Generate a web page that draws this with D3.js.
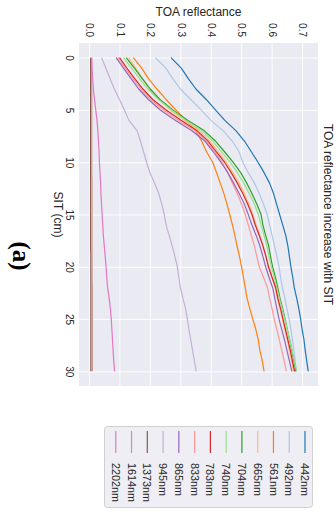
<!DOCTYPE html>
<html>
<head>
<meta charset="utf-8">
<script src="https://cdn.jsdelivr.net/npm/d3@7"></script>
<style>
  html, body { margin: 0; padding: 0; background: #fff; }
  svg { display: block; }
</style>
</head>
<body>
<div id="chart"></div>
<script>
const sit = [0, 1, 2, 3, 4, 5, 6, 7, 8, 9, 10, 11, 12, 13, 14, 15, 16, 17, 18, 19, 20, 21, 22, 23, 24, 25, 26, 27, 28, 29, 30]
const sitTicks = [0, 5, 10, 15, 20, 25, 30]
const toaTicks = [0.0, 0.1, 0.2, 0.3, 0.4, 0.5, 0.6, 0.7]

const bands = ["442nm", "492nm", "561nm", "665nm", "704nm", "740nm", "783nm", "833nm", "865nm", "945nm", "1373nm", "1614nm", "2202nm"]
const colors = ["#1f77b4", "#aec7e8", "#ff7f0e", "#ffbb78", "#2ca02c", "#98df8a", "#d62728", "#ff9896", "#9467bd", "#c5b0d5", "#8c564b", "#c49c94", "#e377c2"]

const toa442 = [0.266, 0.300, 0.323, 0.348, 0.382, 0.412, 0.443, 0.480, 0.508, 0.530, 0.552, 0.572, 0.590, 0.603, 0.613, 0.623, 0.633, 0.643, 0.650, 0.655, 0.660, 0.666, 0.671, 0.679, 0.686, 0.692, 0.697, 0.703, 0.707, 0.712, 0.717]
const toa492 = [0.215, 0.249, 0.272, 0.297, 0.331, 0.365, 0.397, 0.438, 0.468, 0.490, 0.502, 0.520, 0.540, 0.556, 0.570, 0.582, 0.590, 0.598, 0.606, 0.614, 0.621, 0.626, 0.632, 0.640, 0.647, 0.654, 0.660, 0.665, 0.670, 0.674, 0.678]
const toa561 = [0.142, 0.170, 0.192, 0.220, 0.250, 0.282, 0.316, 0.347, 0.367, 0.383, 0.403, 0.416, 0.428, 0.440, 0.450, 0.459, 0.468, 0.476, 0.483, 0.491, 0.498, 0.504, 0.510, 0.516, 0.525, 0.535, 0.545, 0.553, 0.558, 0.566, 0.572]
const toa665 = [0.127, 0.150, 0.172, 0.196, 0.226, 0.264, 0.310, 0.360, 0.395, 0.422, 0.448, 0.470, 0.490, 0.507, 0.522, 0.535, 0.546, 0.558, 0.569, 0.578, 0.588, 0.598, 0.608, 0.616, 0.624, 0.632, 0.640, 0.648, 0.655, 0.662, 0.668]
const toa704 = [0.119, 0.146, 0.172, 0.198, 0.230, 0.272, 0.322, 0.376, 0.413, 0.442, 0.470, 0.495, 0.515, 0.532, 0.548, 0.562, 0.568, 0.577, 0.587, 0.593, 0.600, 0.609, 0.617, 0.624, 0.633, 0.641, 0.648, 0.656, 0.663, 0.670, 0.676]
const toa740 = [0.110, 0.136, 0.163, 0.190, 0.225, 0.268, 0.316, 0.368, 0.404, 0.432, 0.460, 0.484, 0.505, 0.523, 0.540, 0.553, 0.562, 0.572, 0.581, 0.588, 0.596, 0.605, 0.614, 0.622, 0.631, 0.640, 0.648, 0.656, 0.664, 0.671, 0.679]
const toa783 = [0.097, 0.121, 0.147, 0.174, 0.206, 0.250, 0.300, 0.352, 0.388, 0.415, 0.442, 0.464, 0.484, 0.502, 0.518, 0.532, 0.543, 0.556, 0.568, 0.578, 0.586, 0.598, 0.610, 0.617, 0.626, 0.634, 0.642, 0.650, 0.658, 0.665, 0.672]
const toa833 = [0.092, 0.116, 0.141, 0.167, 0.199, 0.241, 0.291, 0.345, 0.383, 0.410, 0.434, 0.452, 0.468, 0.484, 0.498, 0.510, 0.520, 0.530, 0.540, 0.548, 0.556, 0.570, 0.583, 0.590, 0.598, 0.605, 0.614, 0.622, 0.630, 0.638, 0.645]
const toa865 = [0.086, 0.110, 0.135, 0.160, 0.192, 0.231, 0.281, 0.335, 0.378, 0.405, 0.430, 0.453, 0.472, 0.490, 0.507, 0.520, 0.532, 0.546, 0.558, 0.568, 0.577, 0.588, 0.600, 0.607, 0.614, 0.621, 0.630, 0.639, 0.647, 0.655, 0.663]
const toa945 = [0.038, 0.052, 0.066, 0.080, 0.097, 0.113, 0.128, 0.155, 0.166, 0.176, 0.186, 0.197, 0.212, 0.226, 0.236, 0.244, 0.250, 0.260, 0.270, 0.279, 0.287, 0.292, 0.297, 0.305, 0.314, 0.320, 0.325, 0.331, 0.337, 0.343, 0.349]
const toa1373 = [0.002, 0.002, 0.002, 0.002, 0.002, 0.002, 0.002, 0.002, 0.002, 0.002, 0.002, 0.002, 0.002, 0.002, 0.002, 0.002, 0.002, 0.002, 0.002, 0.003, 0.003, 0.003, 0.003, 0.003, 0.003, 0.003, 0.003, 0.003, 0.003, 0.003, 0.003]
const toa1614 = [0.005, 0.005, 0.005, 0.006, 0.006, 0.006, 0.006, 0.006, 0.006, 0.006, 0.006, 0.006, 0.007, 0.007, 0.007, 0.007, 0.007, 0.007, 0.007, 0.007, 0.007, 0.007, 0.008, 0.008, 0.008, 0.008, 0.008, 0.008, 0.008, 0.008, 0.008]
const toa2202 = [0.006, 0.007, 0.009, 0.011, 0.015, 0.019, 0.023, 0.026, 0.028, 0.030, 0.031, 0.033, 0.035, 0.036, 0.038, 0.040, 0.042, 0.044, 0.047, 0.050, 0.053, 0.055, 0.058, 0.063, 0.067, 0.070, 0.072, 0.074, 0.076, 0.078, 0.081]

const seriesValues = [toa442, toa492, toa561, toa665, toa704, toa740, toa783, toa833, toa865, toa945, toa1373, toa1614, toa2202]

// the figure is drawn landscape (512 x 336) and then turned a quarter clockwise
const W = 512
const H = 336
const font = "'Liberation Sans', Arial, sans-serif"
const ink = "#262626"

const svg = d3.select("#chart")
  .append("svg")
  .attr("width", 336)
  .attr("height", 512)

const root = svg.append("g")
  .attr("transform", `translate(336,0) rotate(90)`)

root.append("rect").attr("width", W).attr("height", H).attr("fill", "#fff")

const plot = {left: 43, right: 386, top: 18, bottom: 257}

const x = d3.scaleLinear().domain([-1.4, 31.4]).range([plot.left, plot.right])
const y = d3.scaleLinear().domain([-0.036, 0.749]).range([plot.bottom, plot.top])

root.append("rect")
  .attr("x", plot.left)
  .attr("y", plot.top)
  .attr("width", plot.right - plot.left)
  .attr("height", plot.bottom - plot.top)
  .attr("fill", "#eaeaf2")

root.append("g")
  .attr("transform", `translate(0,${plot.bottom})`)
  .call(d3.axisBottom(x).tickValues(sitTicks).tickSize(-(plot.bottom - plot.top)).tickPadding(6).tickFormat(d3.format("d")))
  .call(g => g.select(".domain").remove())
  .call(g => g.selectAll("line").attr("stroke", "#fff").attr("stroke-width", 0.9))
  .call(g => g.selectAll("text").attr("fill", ink).attr("font-size", 10).attr("font-family", font))

root.append("g")
  .attr("transform", `translate(${plot.left},0)`)
  .call(d3.axisLeft(y).tickValues(toaTicks).tickSize(-(plot.right - plot.left)).tickPadding(6).tickFormat(d3.format(".1f")))
  .call(g => g.select(".domain").remove())
  .call(g => g.selectAll("line").attr("stroke", "#fff").attr("stroke-width", 0.9))
  .call(g => g.selectAll("text").attr("fill", ink).attr("font-size", 10).attr("font-family", font))

const line = d3.line()
  .x((d, i) => x(sit[i]))
  .y(d => y(d))

seriesValues.forEach((values, i) => {
  root.append("path")
    .datum(values)
    .attr("fill", "none")
    .attr("stroke", colors[i])
    .attr("stroke-width", 1.2)
    .attr("stroke-linejoin", "round")
    .attr("d", line)
})

root.append("text")
  .attr("x", (plot.left + plot.right) / 2)
  .attr("y", 12)
  .attr("text-anchor", "middle")
  .attr("font-family", font)
  .attr("font-size", 12)
  .attr("fill", ink)
  .text("TOA reflectance increase with SIT")

root.append("text")
  .attr("transform", `translate(16,${(plot.top + plot.bottom) / 2}) rotate(-90)`)
  .attr("text-anchor", "middle")
  .attr("font-family", font)
  .attr("font-size", 12)
  .attr("fill", ink)
  .text("TOA reflectance")

root.append("text")
  .attr("x", (plot.left + plot.right) / 2)
  .attr("y", 282)
  .attr("text-anchor", "middle")
  .attr("font-family", font)
  .attr("font-size", 12)
  .attr("fill", ink)
  .text("SIT (cm)")

root.append("text")
  .attr("x", 256)
  .attr("y", 323)
  .attr("text-anchor", "middle")
  .attr("font-family", "'Liberation Serif', 'Times New Roman', serif")
  .attr("font-weight", "bold")
  .attr("font-size", 25)
  .attr("fill", "#000")
  .text("(a)")

// legend
const legend = root.append("g")
legend.append("rect")
  .attr("x", 426.5)
  .attr("y", 23.5)
  .attr("width", 81)
  .attr("height", 208)
  .attr("rx", 3)
  .attr("fill", "#eeeef4")
  .attr("stroke", "#d0d0d0")
  .attr("stroke-width", 1)

bands.forEach((band, i) => {
  const cy = 31 + i * 15.77
  const item = legend.append("g").attr("transform", `translate(0,${cy})`)
  item.append("line")
    .attr("x1", 431)
    .attr("x2", 453)
    .attr("stroke", colors[i])
    .attr("stroke-width", 1.2)
  item.append("text")
    .attr("x", 463)
    .attr("dy", "0.36em")
    .attr("font-family", font)
    .attr("font-size", 10.8)
    .attr("fill", ink)
    .text(band)
})
</script>
</body>
</html>
